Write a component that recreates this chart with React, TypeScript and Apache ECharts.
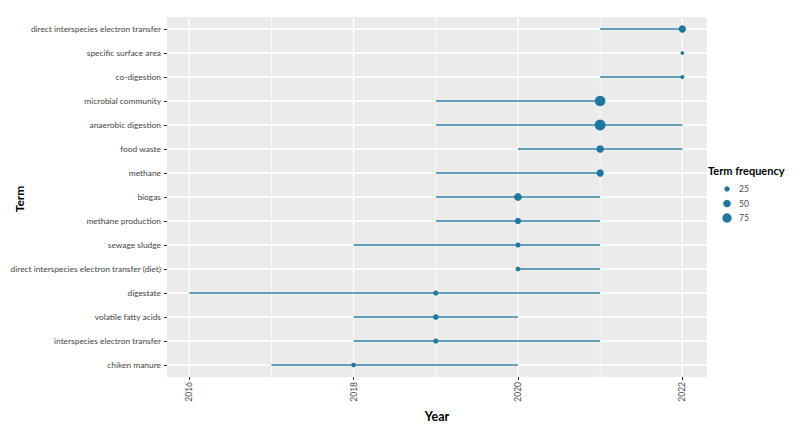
import React, { useEffect, useRef } from "react";
import * as echarts from "echarts";

const terms = [
  "direct interspecies electron transfer",
  "specific surface area",
  "co-digestion",
  "microbial community",
  "anaerobic digestion",
  "food waste",
  "methane",
  "biogas",
  "methane production",
  "sewage sludge",
  "direct interspecies electron transfer (diet)",
  "digestate",
  "volatile fatty acids",
  "interspecies electron transfer",
  "chiken manure",
];
const startYear = [2021, 2022, 2021, 2019, 2019, 2020, 2019, 2019, 2019, 2018, 2020, 2016, 2018, 2018, 2017];
const endYear = [2022, 2022, 2022, 2021, 2022, 2022, 2021, 2021, 2021, 2021, 2021, 2021, 2020, 2021, 2020];
const peakYear = [2022, 2022, 2022, 2021, 2021, 2021, 2021, 2020, 2020, 2020, 2020, 2019, 2019, 2019, 2018];
const frequency = [45, 12, 14, 95, 100, 48, 45, 52, 33, 22, 20, 22, 26, 22, 18];
const yearTicks = [2016, 2018, 2020, 2022];
const minorYears = [2017, 2019, 2021];
const legendValues = [25, 50, 75];

const LINE_COLOR = "#3083a6";
const DOT_COLOR = "#1f77a0";
const FONT = "Lato";

const sizeOf = (v: number) => Math.sqrt(v) * 1.08;

export default function App() {
  const ref = useRef<HTMLDivElement>(null);
  useEffect(() => {
    if (!ref.current) return;
    const chart = echarts.init(ref.current, undefined, { renderer: "svg" });
    const gridData = [
      ...yearTicks.map((y) => [y, 0, 1]),
      ...minorYears.map((y) => [y, 0, 0]),
    ];
    const rowData = terms.map((t, i) => [2016, i]);
    const segData = terms.map((t, i) => [startYear[i], endYear[i], i]);
    const ptData = terms.map((t, i) => [peakYear[i], i, frequency[i]]);

    chart.setOption({
      animation: false,
      grid: {
        left: 167,
        right: 93,
        top: 17,
        bottom: 52,
        show: true,
        backgroundColor: "#ebebeb",
        borderWidth: 0,
        containLabel: false,
        outerBoundsMode: "none",
      },
      xAxis: {
        type: "value",
        min: 2015.73,
        max: 2022.3,
        name: "Year",
        nameLocation: "middle",
        nameGap: 30,
        nameTextStyle: { fontFamily: FONT, fontWeight: "bold", fontSize: 12.5, color: "#000" },
        axisLine: { show: false },
        axisTick: { show: true, customValues: yearTicks, length: 3, lineStyle: { color: "#333" } },
        axisLabel: {
          customValues: yearTicks,
          formatter: (v: number) => String(v),
          rotate: 90,
          fontFamily: FONT,
          fontSize: 8.5,
          color: "#4d4d4d",
          margin: 5,
        },
        splitLine: { show: false },
      },
      yAxis: {
        type: "category",
        data: terms,
        inverse: true,
        axisLine: { show: false },
        axisTick: { show: true, alignWithLabel: true, length: 3, lineStyle: { color: "#333" } },
        axisLabel: { fontFamily: FONT, fontSize: 8.4, color: "#444", margin: 6 },
        splitLine: { show: false },
      },
      series: [
        {
          type: "custom",
          z: 1,
          silent: true,
          data: gridData,
          encode: { x: 0, y: 1 },
          renderItem: (params: any, api: any) => {
            const cs = params.coordSys;
            const p = api.coord([api.value(0), 0]);
            return {
              type: "line",
              shape: { x1: p[0], y1: cs.y, x2: p[0], y2: cs.y + cs.height },
              style: { stroke: "#ffffff", lineWidth: api.value(2) ? 1.3 : 0.8 },
            };
          },
        },
        {
          type: "custom",
          z: 1,
          silent: true,
          data: rowData,
          encode: { x: 0, y: 1 },
          renderItem: (params: any, api: any) => {
            const cs = params.coordSys;
            const p = api.coord([2016, api.value(1)]);
            return {
              type: "line",
              shape: { x1: cs.x, y1: p[1], x2: cs.x + cs.width, y2: p[1] },
              style: { stroke: "#ffffff", lineWidth: 1.3 },
            };
          },
        },
        {
          type: "custom",
          z: 2,
          silent: true,
          data: segData,
          encode: { x: [0, 1], y: 2 },
          renderItem: (params: any, api: any) => {
            const a = api.coord([api.value(0), api.value(2)]);
            const b = api.coord([api.value(1), api.value(2)]);
            return {
              type: "line",
              shape: { x1: a[0], y1: a[1], x2: b[0], y2: b[1] },
              style: { stroke: LINE_COLOR, lineWidth: 1.7 },
            };
          },
        },
        {
          type: "scatter",
          z: 3,
          data: ptData,
          symbolSize: (v: number[]) => sizeOf(v[2]),
          itemStyle: { color: DOT_COLOR, opacity: 1 },
        },
      ],
      graphic: [
        {
          type: "text",
          x: 19,
          y: 199,
          rotation: Math.PI / 2,
          style: {
            text: "Term",
            fontFamily: FONT,
            fontWeight: "bold",
            fontSize: 12,
            fill: "#000",
            align: "center",
            verticalAlign: "middle",
          },
        },
        {
          type: "text",
          left: 708,
          top: 165,
          style: { text: "Term frequency", fontFamily: FONT, fontWeight: "bold", fontSize: 11, fill: "#000" },
        },
        ...legendValues.map((v, i) => ({
          type: "circle",
          shape: { cx: 727, cy: 189 + i * 14.5, r: sizeOf(v) / 2 },
          style: { fill: DOT_COLOR },
        })),
        ...legendValues.map((v, i) => ({
          type: "text",
          x: 739,
          y: 189 + i * 14.5,
          style: {
            text: String(v),
            fontFamily: FONT,
            fontSize: 8.5,
            fill: "#4d4d4d",
            verticalAlign: "middle",
          },
        })),
      ],
    });
    return () => chart.dispose();
  }, []);
  return <div ref={ref} style={{ width: 800, height: 429, margin: -8 }} />;
}
